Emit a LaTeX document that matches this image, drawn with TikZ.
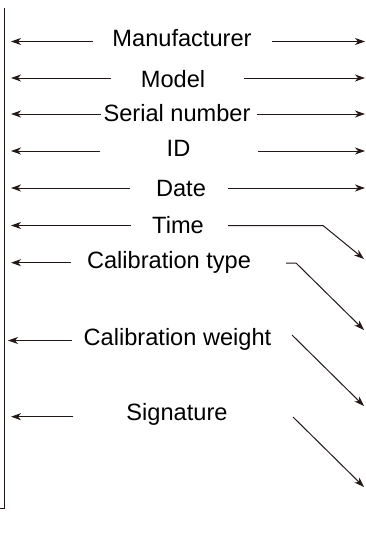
\documentclass[tikz,border=0pt]{standalone}
\usepackage{fontspec}
\setmainfont{Liberation Sans}
\usetikzlibrary{arrows.meta}
\definecolor{ink}{HTML}{231815}
\begin{document}
\begin{tikzpicture}[x=1pt,y=-1pt,
  lbl/.style={anchor=base,inner sep=0pt,font=\fontsize{23.6}{27}\selectfont,text=black},
  arr/.style={draw=ink,line width=1pt,-{Stealth[length=10pt,width=7pt,inset=3pt]}},
  bar/.style={draw=ink,line width=1pt}]
\useasboundingbox (0,0) rectangle (366,536);
% vertical bar
\coordinate (vt) at (4,8);
\coordinate (vb) at (4,508.5);
\coordinate (vk) at (0,508.5);
\draw[bar] (vt) -- (vb) -- (vk);
% labels
\node[lbl] (man) at (182,46.7) {Manufacturer};
\node[lbl] (mod) at (173,87.5) {Model};
\node[lbl] (ser) at (177,121.7) {Serial number};
\node[lbl] (id) at (178.5,156.7) {ID};
\node[lbl] (dat) at (181,196.7) {Date};
\node[lbl] (tim) at (178,233) {Time};
\node[lbl] (ctp) at (169,268.3) {Calibration type};
\node[lbl] (cwt) at (177.5,345) {Calibration weight};
\node[lbl] (sig) at (177,420) {Signature};
% left arrows
\coordinate (l1a) at (93,41.5);  \coordinate (l1b) at (11,41.5);
\coordinate (l2a) at (111,78);   \coordinate (l2b) at (11,78);
\coordinate (l3a) at (101,114);  \coordinate (l3b) at (11,114);
\coordinate (l4a) at (100,151);  \coordinate (l4b) at (11,151);
\coordinate (l5a) at (130,188);  \coordinate (l5b) at (11,188);
\coordinate (l6a) at (131,225.5);\coordinate (l6b) at (11,225.5);
\coordinate (l7a) at (71,262.7); \coordinate (l7b) at (11,262.7);
\coordinate (l8a) at (72,340.5); \coordinate (l8b) at (8,340.5);
\coordinate (l9a) at (73,416.7); \coordinate (l9b) at (11,416.7);
\foreach \i in {1,...,9} {\draw[arr] (l\i a) -- (l\i b);}
% right arrows
\coordinate (r1a) at (272,41.5);  \coordinate (r1b) at (365,41.5);
\coordinate (r2a) at (244,78);    \coordinate (r2b) at (365,78);
\coordinate (r3a) at (257,114);   \coordinate (r3b) at (365,114);
\coordinate (r4a) at (258,151);   \coordinate (r4b) at (365,151);
\coordinate (r5a) at (228,188);   \coordinate (r5b) at (365,188);
\foreach \i in {1,...,5} {\draw[arr] (r\i a) -- (r\i b);}
\coordinate (r6a) at (228,225.5); \coordinate (r6k) at (323,225.5); \coordinate (r6b) at (364,259);
\draw[arr] (r6a) -- (r6k) -- (r6b);
\coordinate (r7a) at (286,263);   \coordinate (r7k) at (296,263);   \coordinate (r7b) at (364,330);
\draw[arr] (r7a) -- (r7k) -- (r7b);
\coordinate (r8a) at (292,335);   \coordinate (r8b) at (364,406);
\draw[arr] (r8a) -- (r8b);
\coordinate (r9a) at (293,417);   \coordinate (r9b) at (364,487);
\draw[arr] (r9a) -- (r9b);
\end{tikzpicture}
\end{document}
